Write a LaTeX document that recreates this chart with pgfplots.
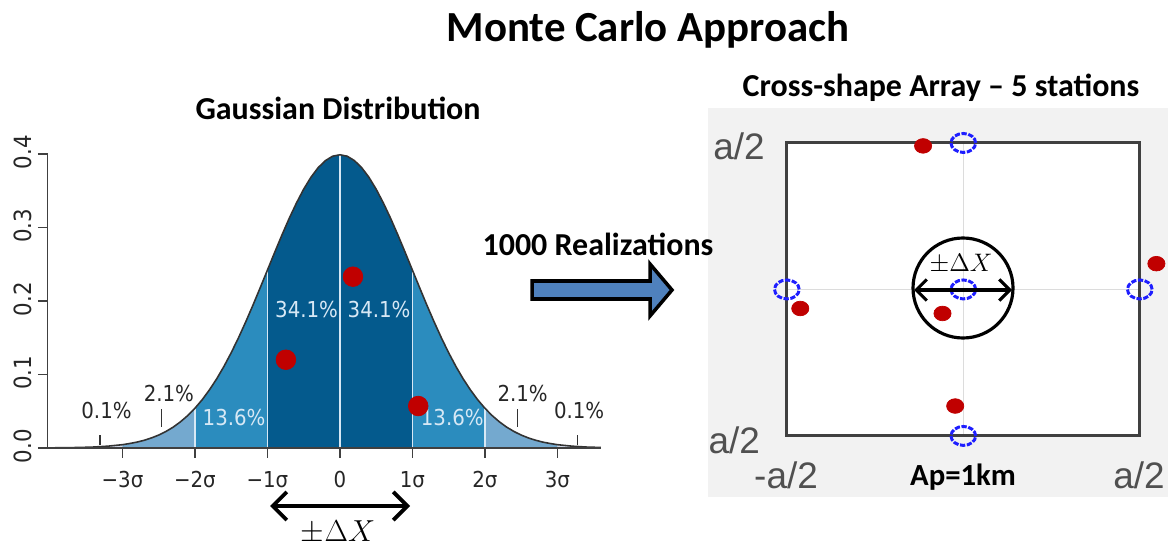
\documentclass[border=0pt]{standalone}
\usepackage{pgfplots}
\pgfplotsset{compat=1.18}
\usepackage{pgfplotstable}
\usepackage{fontspec}
\setmainfont{Carlito}
\newfontfamily\rfont{DejaVu Sans Condensed}
\newfontfamily\afont{Liberation Sans}
\usetikzlibrary{arrows.meta}
\definecolor{cdark}{RGB}{4,90,141}
\definecolor{cmid}{RGB}{43,140,190}
\definecolor{clight}{RGB}{116,169,207}
\definecolor{ctail}{RGB}{208,217,234}
\definecolor{ctxt}{RGB}{215,232,245}
\definecolor{cred}{RGB}{192,0,0}
\definecolor{cblue}{RGB}{30,30,255}
\definecolor{cbg}{RGB}{242,242,242}
\definecolor{cbox}{RGB}{64,64,64}
\definecolor{cgrid}{RGB}{220,220,220}
\definecolor{clab}{RGB}{80,80,80}
\definecolor{carrow}{RGB}{79,129,189}

\pgfplotstableread{
x y
-4.0 0.0001
-3.8 0.0003
-3.6 0.0006
-3.4 0.0012
-3.2 0.0024
-3.0 0.0044
-2.9 0.0060
-2.8 0.0079
-2.7 0.0104
-2.6 0.0136
-2.5 0.0175
-2.4 0.0224
-2.3 0.0283
-2.2 0.0355
-2.1 0.0440
-2.0 0.0540
-1.9 0.0656
-1.8 0.0790
-1.7 0.0940
-1.6 0.1109
-1.5 0.1295
-1.4 0.1497
-1.3 0.1714
-1.2 0.1942
-1.1 0.2179
-1.0 0.2420
-0.9 0.2661
-0.8 0.2897
-0.7 0.3123
-0.6 0.3332
-0.5 0.3521
-0.4 0.3683
-0.3 0.3814
-0.2 0.3910
-0.1 0.3970
0.0 0.3989
0.1 0.3970
0.2 0.3910
0.3 0.3814
0.4 0.3683
0.5 0.3521
0.6 0.3332
0.7 0.3123
0.8 0.2897
0.9 0.2661
1.0 0.2420
1.1 0.2179
1.2 0.1942
1.3 0.1714
1.4 0.1497
1.5 0.1295
1.6 0.1109
1.7 0.0940
1.8 0.0790
1.9 0.0656
2.0 0.0540
2.1 0.0440
2.2 0.0355
2.3 0.0283
2.4 0.0224
2.5 0.0175
2.6 0.0136
2.7 0.0104
2.8 0.0079
2.9 0.0060
3.0 0.0044
3.2 0.0024
3.4 0.0012
3.6 0.0006
3.8 0.0003
4.0 0.0001
}\gauss

\pgfplotstableread{
x y
-0.745 0.120
0.18 0.233
1.08 0.057
}\gdots

\pgfplotstableread{
x y
0 0.5
-0.5 0
0 0
0.5 0
0 -0.5
}\stations

\pgfplotstableread{
x y
-0.114 0.490
-0.462 -0.065
-0.059 -0.082
0.547 0.088
-0.023 -0.398
}\rdots

\begin{document}
\begin{tikzpicture}
\begin{scope}[x=0.02cm,y=-0.02cm]
\path[use as bounding box] (0,0) rectangle (1168,550);
\fill[cbg] (708,108) rectangle (1168,497);
\end{scope}

% ---------------- Gaussian panel
\begin{axis}[
  at={(0.956cm,-8.96cm)}, anchor=south west,
  scale only axis, width=11.064cm, height=5.88cm,
  xmin=-4.03, xmax=3.6, ymin=0, ymax=0.4,
  clip=false, axis on top,
  axis lines=left, axis line style={-, line width=0.8pt, color=black!75},
  tick style={line width=0.8pt, color=black!75},
  tick align=outside, major tick length=0.2cm,
  xtick={-3,-2,-1,0,1,2,3},
  xticklabels={−3σ,−2σ,−1σ,0,1σ,2σ,3σ},
  xticklabel style={font=\rfont\fontsize{12.5}{14}\selectfont, text=black!85, yshift=-4pt},
  ytick={0,0.1,0.2,0.3,0.4},
  yticklabels={0.0,0.1,0.2,0.3,0.4},
  yticklabel style={font=\rfont\fontsize{13.5}{14}\selectfont, text=black!85, rotate=90, anchor=south, xshift=1pt},
]
\addplot[fill=ctail, draw=none, restrict x to domain=-4.1:-3] table {\gauss} \closedcycle;
\addplot[fill=ctail, draw=none, restrict x to domain=3:3.6] table {\gauss} \closedcycle;
\addplot[fill=clight, draw=none, restrict x to domain=-3:-2] table {\gauss} \closedcycle;
\addplot[fill=clight, draw=none, restrict x to domain=2:3] table {\gauss} \closedcycle;
\addplot[fill=cmid, draw=none, restrict x to domain=-2:-1] table {\gauss} \closedcycle;
\addplot[fill=cmid, draw=none, restrict x to domain=1:2] table {\gauss} \closedcycle;
\addplot[fill=cdark, draw=none, restrict x to domain=-1:1] table {\gauss} \closedcycle;
\addplot[ctxt, line width=0.9pt] coordinates {(-2,0) (-2,0.0540)};
\addplot[ctxt, line width=0.9pt] coordinates {(-1,0) (-1,0.2420)};
\addplot[ctxt, line width=0.9pt] coordinates {(0,0) (0,0.3989)};
\addplot[ctxt, line width=0.9pt] coordinates {(1,0) (1,0.2420)};
\addplot[ctxt, line width=0.9pt] coordinates {(2,0) (2,0.0540)};
\addplot[black!80, line width=0.9pt, restrict x to domain=-4.05:3.6] table {\gauss};
\addplot[only marks, mark=*, mark size=5.6pt, color=cred] table {\gdots};
% percentage annotations
\addplot[black!80, line width=0.7pt] coordinates {(-3.31,0.004) (-3.31,0.017)};
\addplot[black!80, line width=0.7pt] coordinates {(3.28,0.004) (3.28,0.017)};
\addplot[black!80, line width=0.7pt] coordinates {(-2.46,0.029) (-2.46,0.053)};
\addplot[black!80, line width=0.7pt] coordinates {(2.45,0.029) (2.45,0.053)};
\node[font=\rfont\fontsize{12.5}{14}\selectfont, text=black!85] at (axis cs:-3.22,0.051) {0.1\%};
\node[font=\rfont\fontsize{12.5}{14}\selectfont, text=black!85] at (axis cs:3.3,0.051) {0.1\%};
\node[font=\rfont\fontsize{12.5}{14}\selectfont, text=black!85] at (axis cs:-2.36,0.074) {2.1\%};
\node[font=\rfont\fontsize{12.5}{14}\selectfont, text=black!85] at (axis cs:2.52,0.074) {2.1\%};
\node[font=\rfont\fontsize{12.5}{14}\selectfont, text=ctxt] at (axis cs:-1.46,0.041) {13.6\%};
\node[font=\rfont\fontsize{12.5}{14}\selectfont, text=ctxt] at (axis cs:1.55,0.041) {13.6\%};
\node[font=\rfont\fontsize{12.5}{14}\selectfont, text=ctxt] at (axis cs:-0.46,0.188) {34.1\%};
\node[font=\rfont\fontsize{12.5}{14}\selectfont, text=ctxt] at (axis cs:0.54,0.188) {34.1\%};
\end{axis}

% ---------------- Array panel
\begin{axis}[
  at={(15.74cm,-8.72cm)}, anchor=south west,
  scale only axis, width=7.06cm, height=5.86cm,
  xmin=-0.5, xmax=0.5, ymin=-0.5, ymax=0.5,
  clip=false,
  axis background/.style={fill=white},
  axis line style={line width=1.7pt, color=cbox},
  xtick={0}, ytick={0}, xticklabels={}, yticklabels={},
  major tick length=0pt,
  xmajorgrids, ymajorgrids,
  major grid style={cgrid, line width=0.8pt},
]
\addplot[only marks, mark=o, mark size=5.4pt, color=cblue,
  mark options={xscale=1.3, line width=1.7pt, dash pattern=on 3pt off 0.9pt}] table {\stations};
\addplot[only marks, mark=*, mark size=4.9pt, color=cred, mark options={yscale=0.85}] table {\rdots};
\end{axis}

\begin{scope}[x=0.02cm,y=-0.02cm]
% titles
\node[font=\bfseries\fontsize{24.4}{28}\selectfont] at (648,30) {Monte Carlo Approach};
\node[font=\bfseries\fontsize{18.2}{21}\selectfont] at (338,108) {Gaussian Distribution};
\node[font=\bfseries\fontsize{18.2}{21}\selectfont] at (941,88) {Cross-shape Array -- 5 stations};
\node[font=\bfseries\fontsize{18.2}{21}\selectfont] at (598,244) {1000 Realizations};
% block arrow
\draw[line width=2pt, fill=carrow, line join=miter]
  (532,281) -- (650,281) -- (650,264) -- (672,290) -- (650,316) -- (650,299) -- (532,299) -- cycle;
% +-DeltaX arrow under gaussian
\draw[line width=2.2pt, {Straight Barb[length=8pt,width=16pt]}-{Straight Barb[length=8pt,width=16pt]}] (270,506) -- (410,506);
\node[font=\fontsize{17}{20}\selectfont] at (338,532) {$\pm\Delta X$};
% circle in array
\draw[line width=1.8pt] (963,288) circle (50);
\draw[line width=1.8pt, {Straight Barb[length=6pt,width=12pt]}-{Straight Barb[length=6pt,width=12pt]}] (914,290) -- (1012,290);
\node[font=\fontsize{14.5}{16}\selectfont] at (961,264) {$\pm\Delta X$};
% array labels
\begin{scope}
\clip (708,108) rectangle (1168,497);
\node[font=\afont\fontsize{21}{24}\selectfont, text=clab] at (739,146) {a/2};
\node[font=\afont\fontsize{21}{24}\selectfont, text=clab, anchor=east] at (766,440) {-a/2};
\node[font=\afont\fontsize{21}{24}\selectfont, text=clab] at (786,475) {-a/2};
\node[font=\afont\fontsize{21}{24}\selectfont, text=clab] at (1139,475) {a/2};
\end{scope}
\node[font=\bfseries\fontsize{17.5}{20}\selectfont] at (963,477) {Ap=1km};
\end{scope}
\end{tikzpicture}
\end{document}
